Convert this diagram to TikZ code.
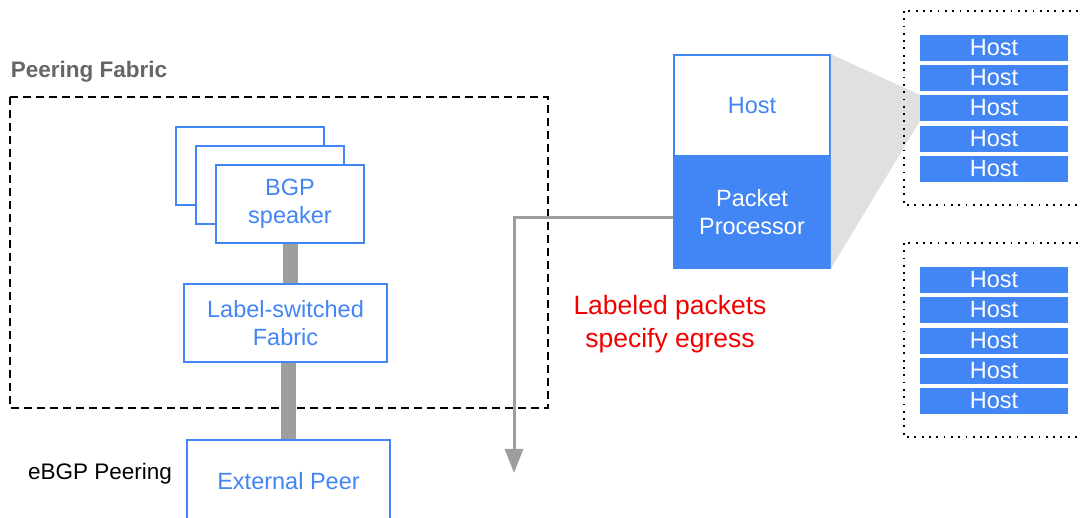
\documentclass[tikz,border=0pt]{standalone}
\usepackage{fontspec}
\setmainfont{Liberation Sans}
\usetikzlibrary{arrows.meta}
\definecolor{gblue}{HTML}{4285F4}
\definecolor{bargray}{HTML}{9E9E9E}
\definecolor{labgray}{HTML}{666666}
\definecolor{fangray}{HTML}{E0E0E0}
\definecolor{egress}{HTML}{F20000}
\begin{document}
\begin{tikzpicture}[x=1pt,y=-1pt,
  box/.style={draw=gblue, line width=1.5pt, fill=white, text=gblue, inner sep=0pt, align=center,
    font=\fontsize{23.5}{28}\selectfont},
  ppbox/.style={draw=gblue, line width=1.5pt, fill=gblue, text=white, inner sep=0pt, align=center,
    font=\fontsize{23.5}{28}\selectfont},
  hostbar/.style={fill=gblue, text=white, minimum width=148pt, minimum height=26pt, inner sep=0pt,
    font=\fontsize{23.5}{26}\selectfont},
  bar/.style={draw=bargray, line width=15pt},
  flow/.style={draw=bargray, line width=3pt, -{Triangle[width=18pt,length=24pt]}},
  dashbox/.style={draw=black, line width=1.5pt, dash pattern=on 8pt off 5pt},
  dotbox/.style={draw=black, line width=1.8pt, dash pattern=on 1.8pt off 5.5pt},
  plain/.style={inner sep=0pt, align=center}
]
\useasboundingbox (0,0) rectangle (1080,518);

% Peering fabric
\node[plain, text=labgray, font=\bfseries\fontsize{22.5}{26}\selectfont] (pflabel) at (89,72) {Peering Fabric};
\draw[dashbox] (10,97) rectangle (548,408);

% BGP speaker stack
\node[box, minimum width=148pt, minimum height=78pt] (bgp1) at (250,166) {};
\node[box, minimum width=148pt, minimum height=78pt] (bgp2) at (270,185) {};
\node[box, minimum width=148pt, minimum height=78pt] (bgp3) at (290,204) {BGP\\speaker};

\node[box, minimum width=203pt, minimum height=78pt] (lsf) at (285.5,323) {Label-switched\\Fabric};
\node[box, minimum width=203pt, minimum height=82pt] (ext) at (288.5,481) {External Peer};

\draw[bar] (bgp3.south) -- (bgp3.south |- lsf.north);
\draw[bar] (ext.north) -- (ext.north |- lsf.south);

\node[plain, font=\fontsize{22.5}{26}\selectfont] (ebgp) at (100,474) {eBGP Peering};

% Host / packet processor
\node[plain, text=egress, font=\fontsize{26.5}{33}\selectfont] (lbl) at (670,324) {Labeled packets\\specify egress};

% fan-out
\node[hostbar] (a3) at (994,108) {Host};
\node[box, minimum width=156pt, minimum height=101pt] (hosttop) at (752,105.5) {Host};
\node[ppbox, minimum width=156pt, minimum height=112pt] (pp) at (752,212) {Packet\\Processor};
\fill[fangray] (hosttop.north east) -- (a3.north west) -- (a3.south west) -- (pp.south east) -- cycle;

\coordinate (tip) at (514,473);
\draw[flow] ([yshift=-6pt]pp.west) -| (tip);

\draw[dotbox] (904,11) rectangle (1100,205);
\draw[dotbox] (904,243) rectangle (1100,437);

\node[hostbar] (a1) at (994,48) {Host};
\node[hostbar] (a2) at (994,78) {Host};
\node[hostbar] at (994,108) {Host};
\node[hostbar] (a4) at (994,139) {Host};
\node[hostbar] (a5) at (994,169) {Host};

\node[hostbar] (b1) at (994,280) {Host};
\node[hostbar] (b2) at (994,310) {Host};
\node[hostbar] (b3) at (994,341) {Host};
\node[hostbar] (b4) at (994,371) {Host};
\node[hostbar] (b5) at (994,401) {Host};
\end{tikzpicture}
\end{document}
